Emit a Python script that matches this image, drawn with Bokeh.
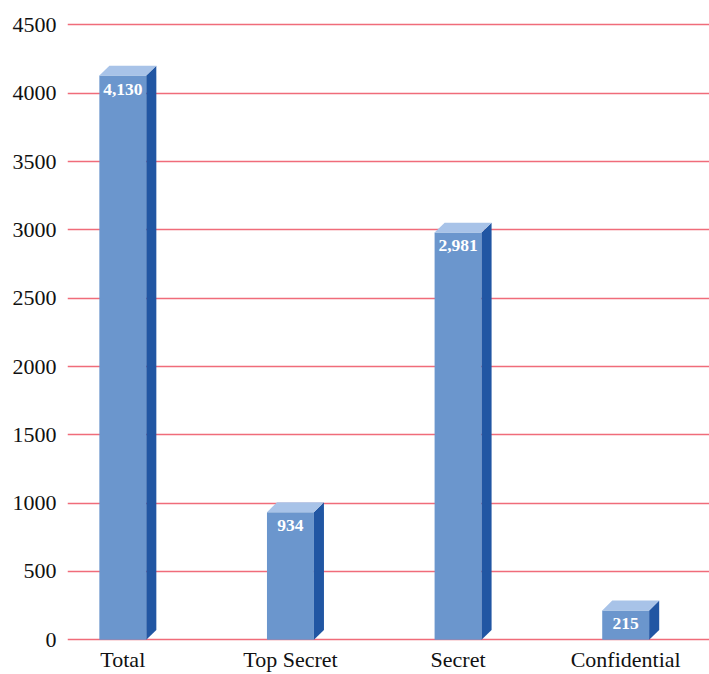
from bokeh.plotting import figure
from bokeh.models import Range1d, FixedTicker, ColumnDataSource
from bokeh.core.properties import value
from bokeh.embed import file_html
from bokeh.resources import INLINE

categories = ["Total", "Top Secret", "Secret", "Confidential"]
counts = [4130, 934, 2981, 215]
y_ticks = [0, 500, 1000, 1500, 2000, 2500, 3000, 3500, 4000, 4500]

FONT = "Liberation Serif"
FRONT = "#6b96cd"
TOP = "#a8c3e8"
SIDE = "#2156a3"
GRID = "#f06c7a"

idx = list(range(len(categories)))
w = 0.28      # bar front width (data units)
dx = 0.06     # depth offset in x
dy = 72       # depth offset in y

p = figure(width=709, height=674, x_range=Range1d(-0.33, 3.50), y_range=Range1d(-20, 4540),
           output_backend="svg", toolbar_location=None,
           min_border_left=67, min_border_right=0, min_border_top=19, min_border_bottom=32)
p.outline_line_color = None
p.background_fill_color = "white"
p.border_fill_color = "white"
p.xgrid.grid_line_color = None
p.ygrid.grid_line_color = GRID
p.ygrid.grid_line_width = 1.5
p.ygrid.ticker = FixedTicker(ticks=y_ticks)

p.yaxis.ticker = FixedTicker(ticks=y_ticks)
p.yaxis.axis_line_color = None
p.yaxis.major_tick_line_color = None
p.yaxis.minor_tick_line_color = None
p.yaxis.major_tick_out = 0
p.yaxis.minor_tick_out = 0
p.yaxis.major_label_text_font = FONT
p.yaxis.major_label_text_font_size = "22px"
p.yaxis.major_label_text_color = "#111111"
p.yaxis.major_label_standoff = 11

p.xaxis.ticker = FixedTicker(ticks=idx)
p.xaxis.major_label_overrides = {i: c for i, c in zip(idx, categories)}
p.xaxis.axis_line_color = None
p.xaxis.major_tick_line_color = None
p.xaxis.minor_tick_line_color = None
p.xaxis.major_tick_out = 0
p.xaxis.minor_tick_out = 0
p.xaxis.major_label_text_font = FONT
p.xaxis.major_label_text_font_size = "22px"
p.xaxis.major_label_text_color = "#111111"
p.xaxis.major_label_standoff = 4

# front faces
src = ColumnDataSource(dict(x=idx, top=counts,
                            label=[f"{c:,}" for c in counts]))
p.vbar(x="x", top="top", bottom=0, width=w, source=src,
       fill_color=FRONT, line_color=None)

# side and top faces
side_xs, side_ys, top_xs, top_ys = [], [], [], []
for i, v in zip(idx, counts):
    r = i + w / 2
    l = i - w / 2
    side_xs.append([r, r + dx, r + dx, r])
    side_ys.append([0, dy, v + dy, v])
    top_xs.append([l, r, r + dx, l + dx])
    top_ys.append([v, v, v + dy, v + dy])
p.patches(side_xs, side_ys, fill_color=SIDE, line_color=None)
p.patches(top_xs, top_ys, fill_color=TOP, line_color=None)

p.text(x="x", y="top", text="label", source=src, text_font=value(FONT),
       text_font_size="17.5px", text_font_style="bold", text_color="white",
       text_align="center", text_baseline="top", y_offset=8)

open("out.html", "w").write(file_html(p, INLINE))
